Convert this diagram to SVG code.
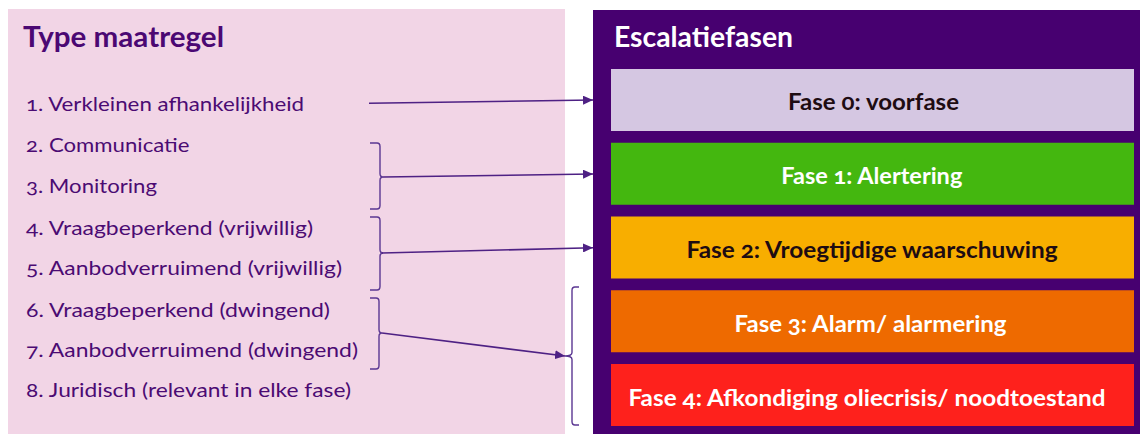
<svg xmlns="http://www.w3.org/2000/svg" width="1140" height="434" viewBox="0 0 1140 434">
  <style>
    .t { font-family: Lato, "Open Sans", "Liberation Sans", sans-serif; font-variant-numeric: oldstyle-nums; }
    .title { font-size: 28px; font-weight: bold; }
    .item { font-size: 20px; fill: #4b0b73; }
    .fase { font-size: 22px; font-weight: bold; text-anchor: middle; }
    .conn { fill: none; stroke: #4e2184; stroke-width: 1.6; }
    .brk { fill: none; stroke: #5b3792; stroke-width: 1.4; }
  </style>
  <defs>
    <marker id="ah" markerUnits="userSpaceOnUse" markerWidth="10" markerHeight="9" refX="10" refY="4.5" orient="auto">
      <path d="M0,0 L10,4.5 L0,9 z" fill="#4e2184"/>
    </marker>
  </defs>
  <rect width="1140" height="434" fill="#ffffff"/>

  <g id="type-maatregel">
    <rect x="8" y="9" width="557" height="425" fill="#f2d5e6"/>
    <text class="t title" x="23" y="47" fill="#4b0873" textLength="201" lengthAdjust="spacingAndGlyphs">Type maatregel</text>
    <text class="t item" x="26" y="110.7" textLength="278" lengthAdjust="spacingAndGlyphs">1. Verkleinen afhankelijkheid</text>
    <text class="t item" x="26" y="152" textLength="163.5" lengthAdjust="spacingAndGlyphs">2. Communicatie</text>
    <text class="t item" x="26" y="193" textLength="131" lengthAdjust="spacingAndGlyphs">3. Monitoring</text>
    <text class="t item" x="26" y="234.5" textLength="287" lengthAdjust="spacingAndGlyphs">4. Vraagbeperkend (vrijwillig)</text>
    <text class="t item" x="26" y="275" textLength="316" lengthAdjust="spacingAndGlyphs">5. Aanbodverruimend (vrijwillig)</text>
    <text class="t item" x="26" y="316.5" textLength="304" lengthAdjust="spacingAndGlyphs">6. Vraagbeperkend (dwingend)</text>
    <text class="t item" x="26" y="357" textLength="332" lengthAdjust="spacingAndGlyphs">7. Aanbodverruimend (dwingend)</text>
    <text class="t item" x="26" y="397" textLength="325" lengthAdjust="spacingAndGlyphs">8. Juridisch (relevant in elke fase)</text>
  </g>

  <g id="escalatiefasen">
    <rect x="593" y="10" width="547" height="424" fill="#470070"/>
    <text class="t title" x="614" y="47" fill="#ffffff" textLength="179" lengthAdjust="spacingAndGlyphs">Escalatiefasen</text>
  </g>

  <g id="fase-0">
    <rect x="611" y="69" width="523" height="62" fill="#d5c7e2"/>
    <text class="t fase" x="873.5" y="110" fill="#1e0c12" textLength="171" lengthAdjust="spacingAndGlyphs">Fase 0: voorfase</text>
  </g>
  <g id="fase-1">
    <rect x="611" y="142.75" width="523" height="62" fill="#44b70f"/>
    <text class="t fase" x="871.8" y="184" fill="#ffffff" textLength="181" lengthAdjust="spacingAndGlyphs">Fase 1: Alertering</text>
  </g>
  <g id="fase-2">
    <rect x="611" y="216.5" width="523" height="62" fill="#f8ae00"/>
    <text class="t fase" x="872" y="258" fill="#1e0c12" textLength="371" lengthAdjust="spacingAndGlyphs">Fase 2: Vroegtijdige waarschuwing</text>
  </g>
  <g id="fase-3">
    <rect x="611" y="290.25" width="523" height="62" fill="#ee6a00"/>
    <text class="t fase" x="870.5" y="331.5" fill="#ffffff" textLength="272" lengthAdjust="spacingAndGlyphs">Fase 3: Alarm/ alarmering</text>
  </g>
  <g id="fase-4">
    <rect x="611" y="364" width="523" height="62" fill="#fe211c"/>
    <text class="t fase" x="867" y="405.5" fill="#ffffff" textLength="477" lengthAdjust="spacingAndGlyphs">Fase 4: Afkondiging oliecrisis/ noodtoestand</text>
  </g>

  <g id="connectors">
    <path class="brk" d="M370,143 L377,143 Q380,143 380,146.5 L380,173.5 Q380,177 383,177 Q380,177 380,180.5 L380,205.5 Q380,209 377,209 L370,209"/>
    <path class="brk" d="M370,217 L377,217 Q380,217 380,220.5 L380,249.5 Q380,253 383,253 Q380,253 380,256.5 L380,286.5 Q380,290 377,290 L370,290"/>
    <path class="brk" d="M370,298 L376,298 Q379,298 379,301.5 L379,329.5 Q379,333 382,333 Q379,333 379,336.5 L379,365.5 Q379,369 376,369 L370,369"/>
    <path class="brk" d="M579,287 L575,287 Q572,287 572,290.5 L572,352.5 Q572,356 565,356 Q572,356 572,359.5 L572,421.5 Q572,425 575,425 L579,425"/>
    <line class="conn" x1="369" y1="103.3" x2="593" y2="100" marker-end="url(#ah)"/>
    <line class="conn" x1="383" y1="177" x2="593" y2="174" marker-end="url(#ah)"/>
    <line class="conn" x1="382" y1="253" x2="593" y2="247.7" marker-end="url(#ah)"/>
    <line class="conn" x1="382" y1="333" x2="565" y2="356" marker-end="url(#ah)"/>
  </g>
</svg>
